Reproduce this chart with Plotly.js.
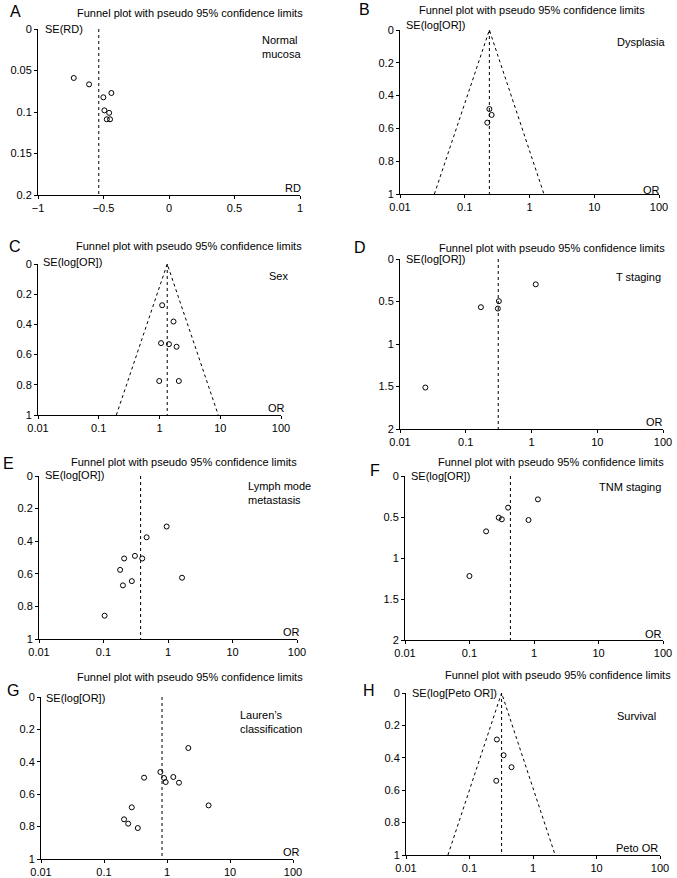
<!DOCTYPE html>
<html>
<head>
<meta charset="utf-8">
<script src="https://cdn.plot.ly/plotly-3.0.1.min.js"></script>
<style>html,body{margin:0;padding:0;background:#fff;}#chart{width:677px;height:878px;}</style>
</head>
<body>
<div id="chart"></div>
<script>
// ---------- data ----------
// A: Normal mucosa (RD scale)
const aX = [-0.727, -0.610, -0.501, -0.440, -0.493, -0.457, -0.475, -0.450];
const aY = [0.059, 0.0667, 0.0823, 0.0771, 0.098, 0.101, 0.1088, 0.1088];
const aCenter = -0.536;
// B: Dysplasia
const bX = [0.24, 0.26, 0.223];
const bY = [0.482, 0.518, 0.565];
const bCenter = 0.24;
const bFunnelX = [0.034, 0.24, 1.67];
const bFunnelY = [1, 0, 1];
// C: Sex
const cX = [1.106, 1.70, 1.06, 1.43, 1.91, 0.99, 2.08];
const cY = [0.273, 0.381, 0.524, 0.531, 0.548, 0.775, 0.775];
const cCenter = 1.34;
const cFunnelX = [0.195, 1.34, 9.27];
const cFunnelY = [1, 0, 1];
// D: T staging
const dX = [1.16, 0.17, 0.319, 0.308, 0.0243];
const dY = [0.298, 0.567, 0.496, 0.583, 1.512];
const dCenter = 0.312;
// E: Lymph node metastasis
const eX = [0.953, 0.466, 0.307, 0.209, 0.399, 0.181, 1.65, 0.275, 0.20, 0.104];
const eY = [0.310, 0.376, 0.490, 0.506, 0.506, 0.576, 0.624, 0.645, 0.671, 0.857];
const eCenter = 0.376;
// F: TNM staging
const fX = [1.15, 0.397, 0.284, 0.317, 0.822, 0.181, 0.0998];
const fY = [0.285, 0.386, 0.508, 0.528, 0.537, 0.675, 1.22];
const fCenter = 0.431;
// G: Lauren's classification
const gX = [2.18, 0.785, 0.433, 0.897, 0.953, 1.26, 1.55, 4.57, 0.276, 0.208, 0.242, 0.344];
const gY = [0.315, 0.463, 0.498, 0.500, 0.525, 0.494, 0.529, 0.669, 0.681, 0.755, 0.782, 0.809];
const gCenter = 0.834;
// H: Survival
const hX = [0.27, 0.344, 0.459, 0.264];
const hY = [0.287, 0.384, 0.458, 0.542];
const hCenter = 0.32;
const hFunnelX = [0.0458, 0.32, 2.23];
const hFunnelY = [1, 0, 1];

const panelLetters = ['A','B','C','D','E','F','G','H'];
const panelLabels = ['Normal<br>mucosa','Dysplasia','Sex','T staging','Lymph mode<br>metastasis','TNM staging','Lauren\u2019s<br>classification','Survival'];
const yTitles = ['SE(RD)','SE(log[OR])','SE(log[OR])','SE(log[OR])','SE(log[OR])','SE(log[OR])','SE(log[OR])','SE(log[Peto OR])'];
const xTitles = ['RD','OR','OR','OR','OR','OR','OR','Peto OR'];
const chartTitle = 'Funnel plot with pseudo 95% confidence limits';
const logTicks = [0.01, 0.1, 1, 10, 100];
const logTickText = ['0.01','0.1','1','10','100'];
const rdTicks = [-1, -0.5, 0, 0.5, 1];
const rdTickText = ['\u22121','\u22120.5','0','0.5','1'];
const seTicksA = [0, 0.05, 0.1, 0.15, 0.2];
const seTicksA_txt = ['0','0.05','0.1','0.15','0.2'];
const seTicks1 = [0, 0.2, 0.4, 0.6, 0.8, 1];
const seTicks1_txt = ['0','0.2','0.4','0.6','0.8','1'];
const seTicks2 = [0, 0.5, 1, 1.5, 2];
const seTicks2_txt = ['0','0.5','1','1.5','2'];

// ---------- layout geometry (pixels) ----------
const W = 677, H = 878;
const P = px => px / W;
const Q = py => 1 - py / H;
const FONT = 'Liberation Sans, Arial, Helvetica, sans-serif';

const panels = [
  {x:aX, y:aY, c:aCenter, fx:null, fy:null, box:[38,300,29,195], ymax:0.2, yt:seTicksA, ytt:seTicksA_txt, log:false,
   letter:[15,12], title:[190,13], ytitle:[43,29], xtitle:[303,188], label:[260,47]},
  {x:bX, y:bY, c:bCenter, fx:bFunnelX, fy:bFunnelY, box:[400,659,30,194], ymax:1, yt:seTicks1, ytt:seTicks1_txt, log:true,
   letter:[364,10], title:[532,10], ytitle:[404,25], xtitle:[662,190], label:[615,42]},
  {x:cX, y:cY, c:cCenter, fx:cFunnelX, fy:cFunnelY, box:[38,281,264,415], ymax:1, yt:seTicks1, ytt:seTicks1_txt, log:true,
   letter:[15,246], title:[189,246], ytitle:[41,262], xtitle:[287,408], label:[267,276]},
  {x:dX, y:dY, c:dCenter, fx:null, fy:null, box:[400,663,259,429], ymax:2, yt:seTicks2, ytt:seTicks2_txt, log:true,
   letter:[360,247], title:[552,248], ytitle:[404,259], xtitle:[665,422], label:[614,277]},
  {x:eX, y:eY, c:eCenter, fx:null, fy:null, box:[39,297,476,639], ymax:1, yt:seTicks1, ytt:seTicks1_txt, log:true,
   letter:[8,463], title:[184,462], ytitle:[43,475], xtitle:[302,632], label:[246,493]},
  {x:fX, y:fY, c:fCenter, fx:null, fy:null, box:[405,663,476,640], ymax:2, yt:seTicks2, ytt:seTicks2_txt, log:true,
   letter:[375,470], title:[551,462], ytitle:[409,476], xtitle:[664,634], label:[597,487]},
  {x:gX, y:gY, c:gCenter, fx:null, fy:null, box:[41,293,697,859], ymax:1, yt:seTicks1, ytt:seTicks1_txt, log:true,
   letter:[13,690], title:[190,677], ytitle:[44,698], xtitle:[302,852], label:[238,722]},
  {x:hX, y:hY, c:hCenter, fx:hFunnelX, fy:hFunnelY, box:[406,660,693,855], ymax:1, yt:seTicks1, ytt:seTicks1_txt, log:true,
   letter:[369,690], title:[558,675], ytitle:[410,693], xtitle:[660,848], label:[615,716]}
];

const traces = [];
const layout = {
  width: W, height: H,
  margin: {l:0, r:0, t:0, b:0},
  paper_bgcolor: '#fff', plot_bgcolor: 'rgba(0,0,0,0)',
  showlegend: false,
  font: {family: FONT, size: 11, color: '#000'},
  annotations: []
};

panels.forEach((p, i) => {
  const n = i + 1;
  const xa = n === 1 ? 'x' : 'x' + n;
  const ya = n === 1 ? 'y' : 'y' + n;
  const xk = n === 1 ? 'xaxis' : 'xaxis' + n;
  const yk = n === 1 ? 'yaxis' : 'yaxis' + n;
  const [x0, x1, y0, y1] = p.box;

  // center line
  traces.push({x:[p.c, p.c], y:[0, p.ymax], xaxis:xa, yaxis:ya, mode:'lines', type:'scatter',
    line:{color:'#000', width:1, dash:'dot'}, hoverinfo:'skip', cliponaxis:false});
  // funnel
  if (p.fx) {
    traces.push({x:p.fx, y:p.fy, xaxis:xa, yaxis:ya, mode:'lines', type:'scatter',
      line:{color:'#000', width:1, dash:'dot'}, hoverinfo:'skip', cliponaxis:false});
  }
  // studies
  traces.push({x:p.x, y:p.y, xaxis:xa, yaxis:ya, mode:'markers', type:'scatter',
    marker:{symbol:'circle-open', size:5, color:'#000', line:{width:1, color:'#000'}}, cliponaxis:false});

  layout[xk] = {
    domain:[P(x0), P(x1)], anchor:ya,
    type: p.log ? 'log' : 'linear',
    range: p.log ? [-2, 2] : [-1, 1],
    tickvals: p.log ? logTicks : rdTicks,
    ticktext: p.log ? logTickText : rdTickText,
    showline:true, linecolor:'#000', linewidth:1,
    ticks:'outside', ticklen:3, tickwidth:1, tickcolor:'#000',
    showgrid:false, zeroline:false, fixedrange:true,
    tickfont:{family:FONT, size:11, color:'#000'}
  };
  layout[yk] = {
    domain:[Q(y1), Q(y0)], anchor:xa,
    range:[p.ymax, 0],
    tickvals:p.yt, ticktext:p.ytt,
    showline:true, linecolor:'#000', linewidth:1,
    ticks:'outside', ticklen:3, tickwidth:1, tickcolor:'#000',
    showgrid:false, zeroline:false, fixedrange:true,
    tickfont:{family:FONT, size:11, color:'#000'}
  };

  const A = layout.annotations;
  A.push({xref:'paper', yref:'paper', x:P(p.letter[0]), y:Q(p.letter[1]), xanchor:'center', yanchor:'middle',
    text:panelLetters[i], showarrow:false, font:{family:FONT, size:16, color:'#000'}});
  A.push({xref:'paper', yref:'paper', x:P(p.title[0]), y:Q(p.title[1]), xanchor:'center', yanchor:'middle',
    text:chartTitle, showarrow:false, font:{family:FONT, size:11, color:'#000'}});
  A.push({xref:'paper', yref:'paper', x:P(p.ytitle[0]), y:Q(p.ytitle[1]), xanchor:'left', yanchor:'middle',
    text:yTitles[i], showarrow:false, font:{family:FONT, size:11, color:'#000'}});
  A.push({xref:'paper', yref:'paper', x:P(p.xtitle[0]), y:Q(p.xtitle[1]), xanchor:'right', yanchor:'middle',
    text:xTitles[i], showarrow:false, font:{family:FONT, size:11, color:'#000'}});
  A.push({xref:'paper', yref:'paper', x:P(p.label[0]), y:Q(p.label[1]), xanchor:'left', yanchor:'middle', align:'left',
    text:panelLabels[i], showarrow:false, font:{family:FONT, size:11, color:'#000'}});
});

Plotly.newPlot('chart', traces, layout, {staticPlot:true, displayModeBar:false});
</script>
</body>
</html>
